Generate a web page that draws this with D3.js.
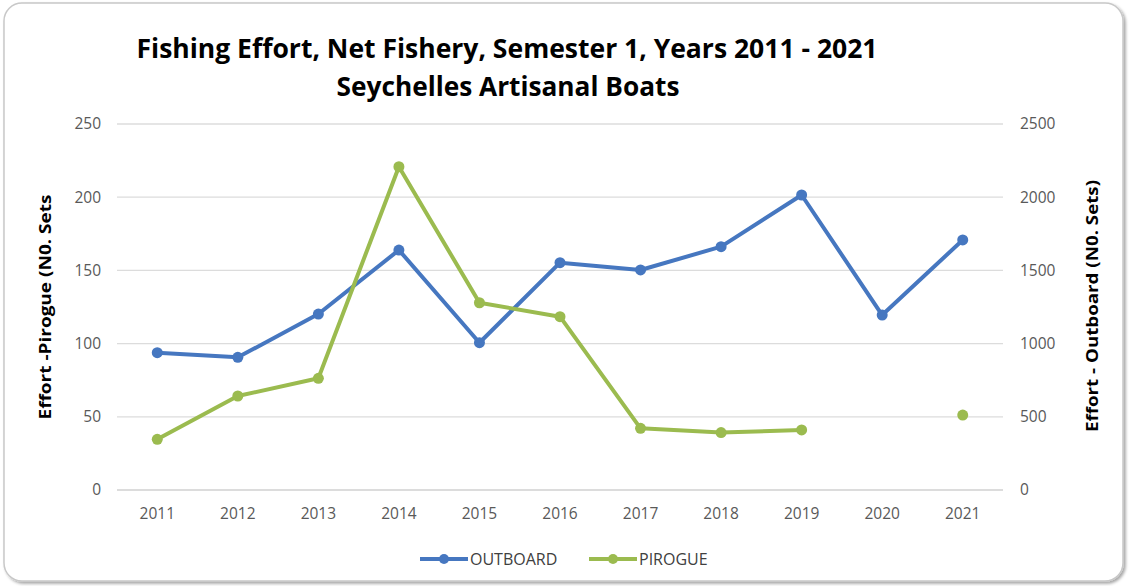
<!DOCTYPE html>
<html><head><meta charset="utf-8">
<script src="https://cdn.jsdelivr.net/npm/d3@7"></script>
<style>body{margin:0;background:#fff;} svg{display:block;}</style>
</head><body>
<svg id="chart" width="1132" height="586"></svg>
<script>
const years = ["2011","2012","2013","2014","2015","2016","2017","2018","2019","2020","2021"];
const outboard = [938, 906, 1202, 1639, 1006, 1553, 1503, 1662, 2015, 1195, 1708];
const pirogue = [34.6, 64.2, 76.3, 220.8, 127.9, 118.4, 42.1, 39.2, 41, null, 51.2];
const leftTicks = [0, 50, 100, 150, 200, 250];
const rightTicks = [0, 500, 1000, 1500, 2000, 2500];
const titleLines = ["Fishing Effort, Net Fishery, Semester 1, Years 2011 - 2021", "Seychelles Artisanal Boats"];

const svg = d3.select("#chart");
const defs = svg.append("defs");
const f = defs.append("filter").attr("id","sh").attr("x","-5%").attr("y","-5%").attr("width","110%").attr("height","110%");
f.append("feDropShadow").attr("dx",2).attr("dy",2).attr("stdDeviation",1.5).attr("flood-color","#000").attr("flood-opacity",0.35);

svg.append("rect").attr("x",4).attr("y",3).attr("width",1119).attr("height",578).attr("rx",18)
  .attr("fill","#fff").attr("stroke","#c8c8c8").attr("stroke-width",1.5).attr("filter","url(#sh)");

const plot = {l:117, r:1003, t:124, b:490};
const x = d3.scaleBand().domain(years).range([plot.l, plot.r]);
const yL = d3.scaleLinear().domain([0,250]).range([plot.b, plot.t]);
const yR = d3.scaleLinear().domain([0,2500]).range([plot.b, plot.t]);
const font = "'Open Sans', sans-serif";
const tickSize = 15.5;

// gridlines
svg.append("g").selectAll("line").data(leftTicks).join("line")
  .attr("x1",plot.l).attr("x2",plot.r).attr("y1",d=>yL(d)).attr("y2",d=>yL(d))
  .attr("stroke",d=>d===0?"#d0d0d0":"#dcdcdc").attr("stroke-width",1.3);

// left axis
const gl = svg.append("g").attr("transform",`translate(${plot.l},0)`)
  .call(d3.axisLeft(yL).tickValues(leftTicks).tickFormat(d3.format("d")).tickSize(0).tickPadding(16));
gl.select(".domain").remove();
gl.selectAll("text").attr("font-family",font).attr("font-size",tickSize).attr("fill","#595959");

// right axis
const gr = svg.append("g").attr("transform",`translate(${plot.r},0)`)
  .call(d3.axisRight(yR).tickValues(rightTicks).tickFormat(d3.format("d")).tickSize(0).tickPadding(17));
gr.select(".domain").remove();
gr.selectAll("text").attr("font-family",font).attr("font-size",tickSize).attr("fill","#595959");

// bottom axis
const gb = svg.append("g").attr("transform",`translate(0,${plot.b})`)
  .call(d3.axisBottom(x).tickSize(0).tickPadding(18));
gb.select(".domain").remove();
gb.selectAll("text").attr("font-family",font).attr("font-size",tickSize).attr("fill","#595959");

const cx = d => x(d) + x.bandwidth()/2;
const blue = "#4677c0", green = "#9bbb4f";

// outboard
const od = years.map((y,i)=>({y,v:outboard[i]}));
svg.append("path").datum(od)
  .attr("fill","none").attr("stroke",blue).attr("stroke-width",4).attr("stroke-linejoin","round")
  .attr("d", d3.line().defined(d=>d.v!=null).x(d=>cx(d.y)).y(d=>yR(d.v)));
svg.append("g").selectAll("circle").data(od.filter(d=>d.v!=null)).join("circle")
  .attr("cx",d=>cx(d.y)).attr("cy",d=>yR(d.v)).attr("r",5.5).attr("fill",blue);

// pirogue
const pd = years.map((y,i)=>({y,v:pirogue[i]}));
svg.append("path").datum(pd)
  .attr("fill","none").attr("stroke",green).attr("stroke-width",4).attr("stroke-linejoin","round")
  .attr("d", d3.line().defined(d=>d.v!=null).x(d=>cx(d.y)).y(d=>yL(d.v)));
svg.append("g").selectAll("circle").data(pd.filter(d=>d.v!=null)).join("circle")
  .attr("cx",d=>cx(d.y)).attr("cy",d=>yL(d.v)).attr("r",5.5).attr("fill",green);

// title
svg.append("text").attr("x",507).attr("y",58).attr("text-anchor","middle")
  .attr("font-family",font).attr("font-weight","bold").attr("font-size",26).attr("fill","#000")
  .attr("textLength",741).attr("lengthAdjust","spacingAndGlyphs").text(titleLines[0]);
svg.append("text").attr("x",508).attr("y",96).attr("text-anchor","middle")
  .attr("font-family",font).attr("font-weight","bold").attr("font-size",26).attr("fill","#000")
  .attr("textLength",343).attr("lengthAdjust","spacingAndGlyphs").text(titleLines[1]);

// axis titles
svg.append("text").attr("transform","translate(51,307) rotate(-90)").attr("text-anchor","middle")
  .attr("font-family",font).attr("font-weight","bold").attr("font-size",16).attr("fill","#000")
  .attr("textLength",225).attr("lengthAdjust","spacingAndGlyphs").text("Effort -Pirogue (N0. Sets");
svg.append("text").attr("transform","translate(1098,306) rotate(-90)").attr("text-anchor","middle")
  .attr("font-family",font).attr("font-weight","bold").attr("font-size",16).attr("fill","#000")
  .attr("textLength",252).attr("lengthAdjust","spacingAndGlyphs").text("Effort - Outboard (N0. Sets)");

// legend
const legend = [{name:"OUTBOARD",c:blue,x:420},{name:"PIROGUE",c:green,x:589}];
const lg = svg.append("g").selectAll("g").data(legend).join("g").attr("transform",d=>`translate(${d.x},559)`);
lg.append("line").attr("x1",0).attr("x2",48).attr("stroke",d=>d.c).attr("stroke-width",4);
lg.append("circle").attr("cx",24).attr("r",5).attr("fill",d=>d.c);
lg.append("text").attr("x",50).attr("y",6).attr("font-family",font).attr("font-size",16).attr("fill","#404040").text(d=>d.name);
</script>
</body></html>
